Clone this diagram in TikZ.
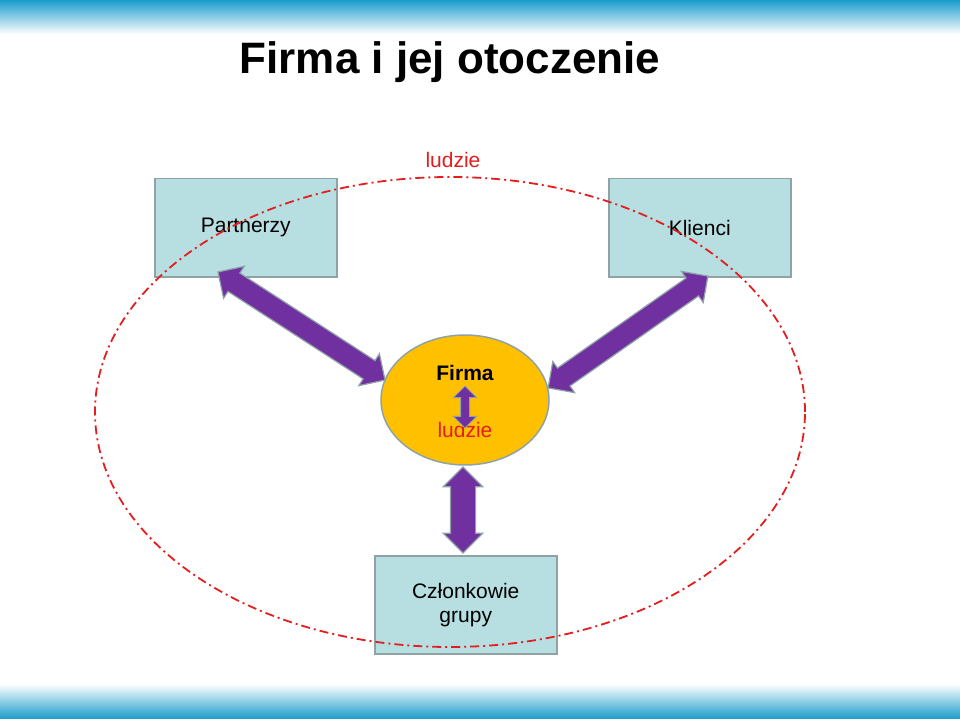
\documentclass[tikz,border=0pt]{standalone}
\usepackage{fontspec}
\setmainfont{Liberation Sans}
\usetikzlibrary{shapes.arrows,shapes.geometric}
\definecolor{barblue}{HTML}{1A9CCC}
\definecolor{boxfill}{HTML}{B7DEE0}
\definecolor{boxedge}{HTML}{8FA3A6}
\definecolor{firmfill}{HTML}{FFC000}
\definecolor{arrowfill}{HTML}{7030A0}
\definecolor{lred}{HTML}{E41E1E}
\begin{document}
\begin{tikzpicture}[x=1pt,y=-1pt,
  box/.style={draw=boxedge,line width=1.5pt,fill=boxfill,minimum width=182pt,minimum height=98pt,inner sep=0pt,font=\fontsize{21}{24}\selectfont,align=center},
  barr/.style={double arrow,draw=boxedge,line width=1.2pt,fill=arrowfill,inner xsep=0pt,double arrow head indent=0pt}]
\useasboundingbox (0,0) rectangle (960,719);
\fill[white] (0,0) rectangle (960,719);
\shade[top color=barblue,bottom color=white] (0,0) rectangle (960,34);
\shade[top color=white,bottom color=barblue] (0,684) rectangle (960,719);
\node[font=\bfseries\fontsize{44}{50}\selectfont] (title) at (450,62) {Firma i jej otoczenie};
\node[box,anchor=north west] (part) at (154,178) {Partnerzy};
\node[box,anchor=north west] (kli) at (608,178) {Klienci};
\node[box,anchor=north west] (czl) at (374,555) {Członkowie\\grupy};
\node[draw=boxedge,line width=1.5pt,fill=firmfill,ellipse,minimum width=168pt,minimum height=130pt] (firma) at (465,400) {};
\draw[lred,line width=1.8pt,dash pattern=on 9pt off 4pt on 2pt off 4pt] (450,412) ellipse [x radius=355pt,y radius=235pt];
\node[text=lred,font=\fontsize{21}{24}\selectfont] (ludzie) at (453,160) {ludzie};
\node[font=\bfseries\fontsize{21}{24}\selectfont] (ftxt) at (465,373) {Firma};
\node[text=lred,font=\fontsize{21}{24}\selectfont] (ltxt) at (465,430) {ludzie};
\node[barr,minimum height=199pt,minimum width=38pt,inner ysep=9pt,rotate=-32.9] (a1) at (301.5,326) {};
\node[barr,minimum height=195pt,minimum width=38pt,inner ysep=9pt,rotate=35] (a2) at (628,332) {};
\node[barr,minimum height=86pt,minimum width=38pt,inner ysep=12pt,rotate=-90] (a3) at (463,510) {};
\node[barr,minimum height=42pt,minimum width=17pt,inner ysep=4pt,line width=1pt,rotate=-90] (a4) at (465,407) {};
\end{tikzpicture}
\end{document}
